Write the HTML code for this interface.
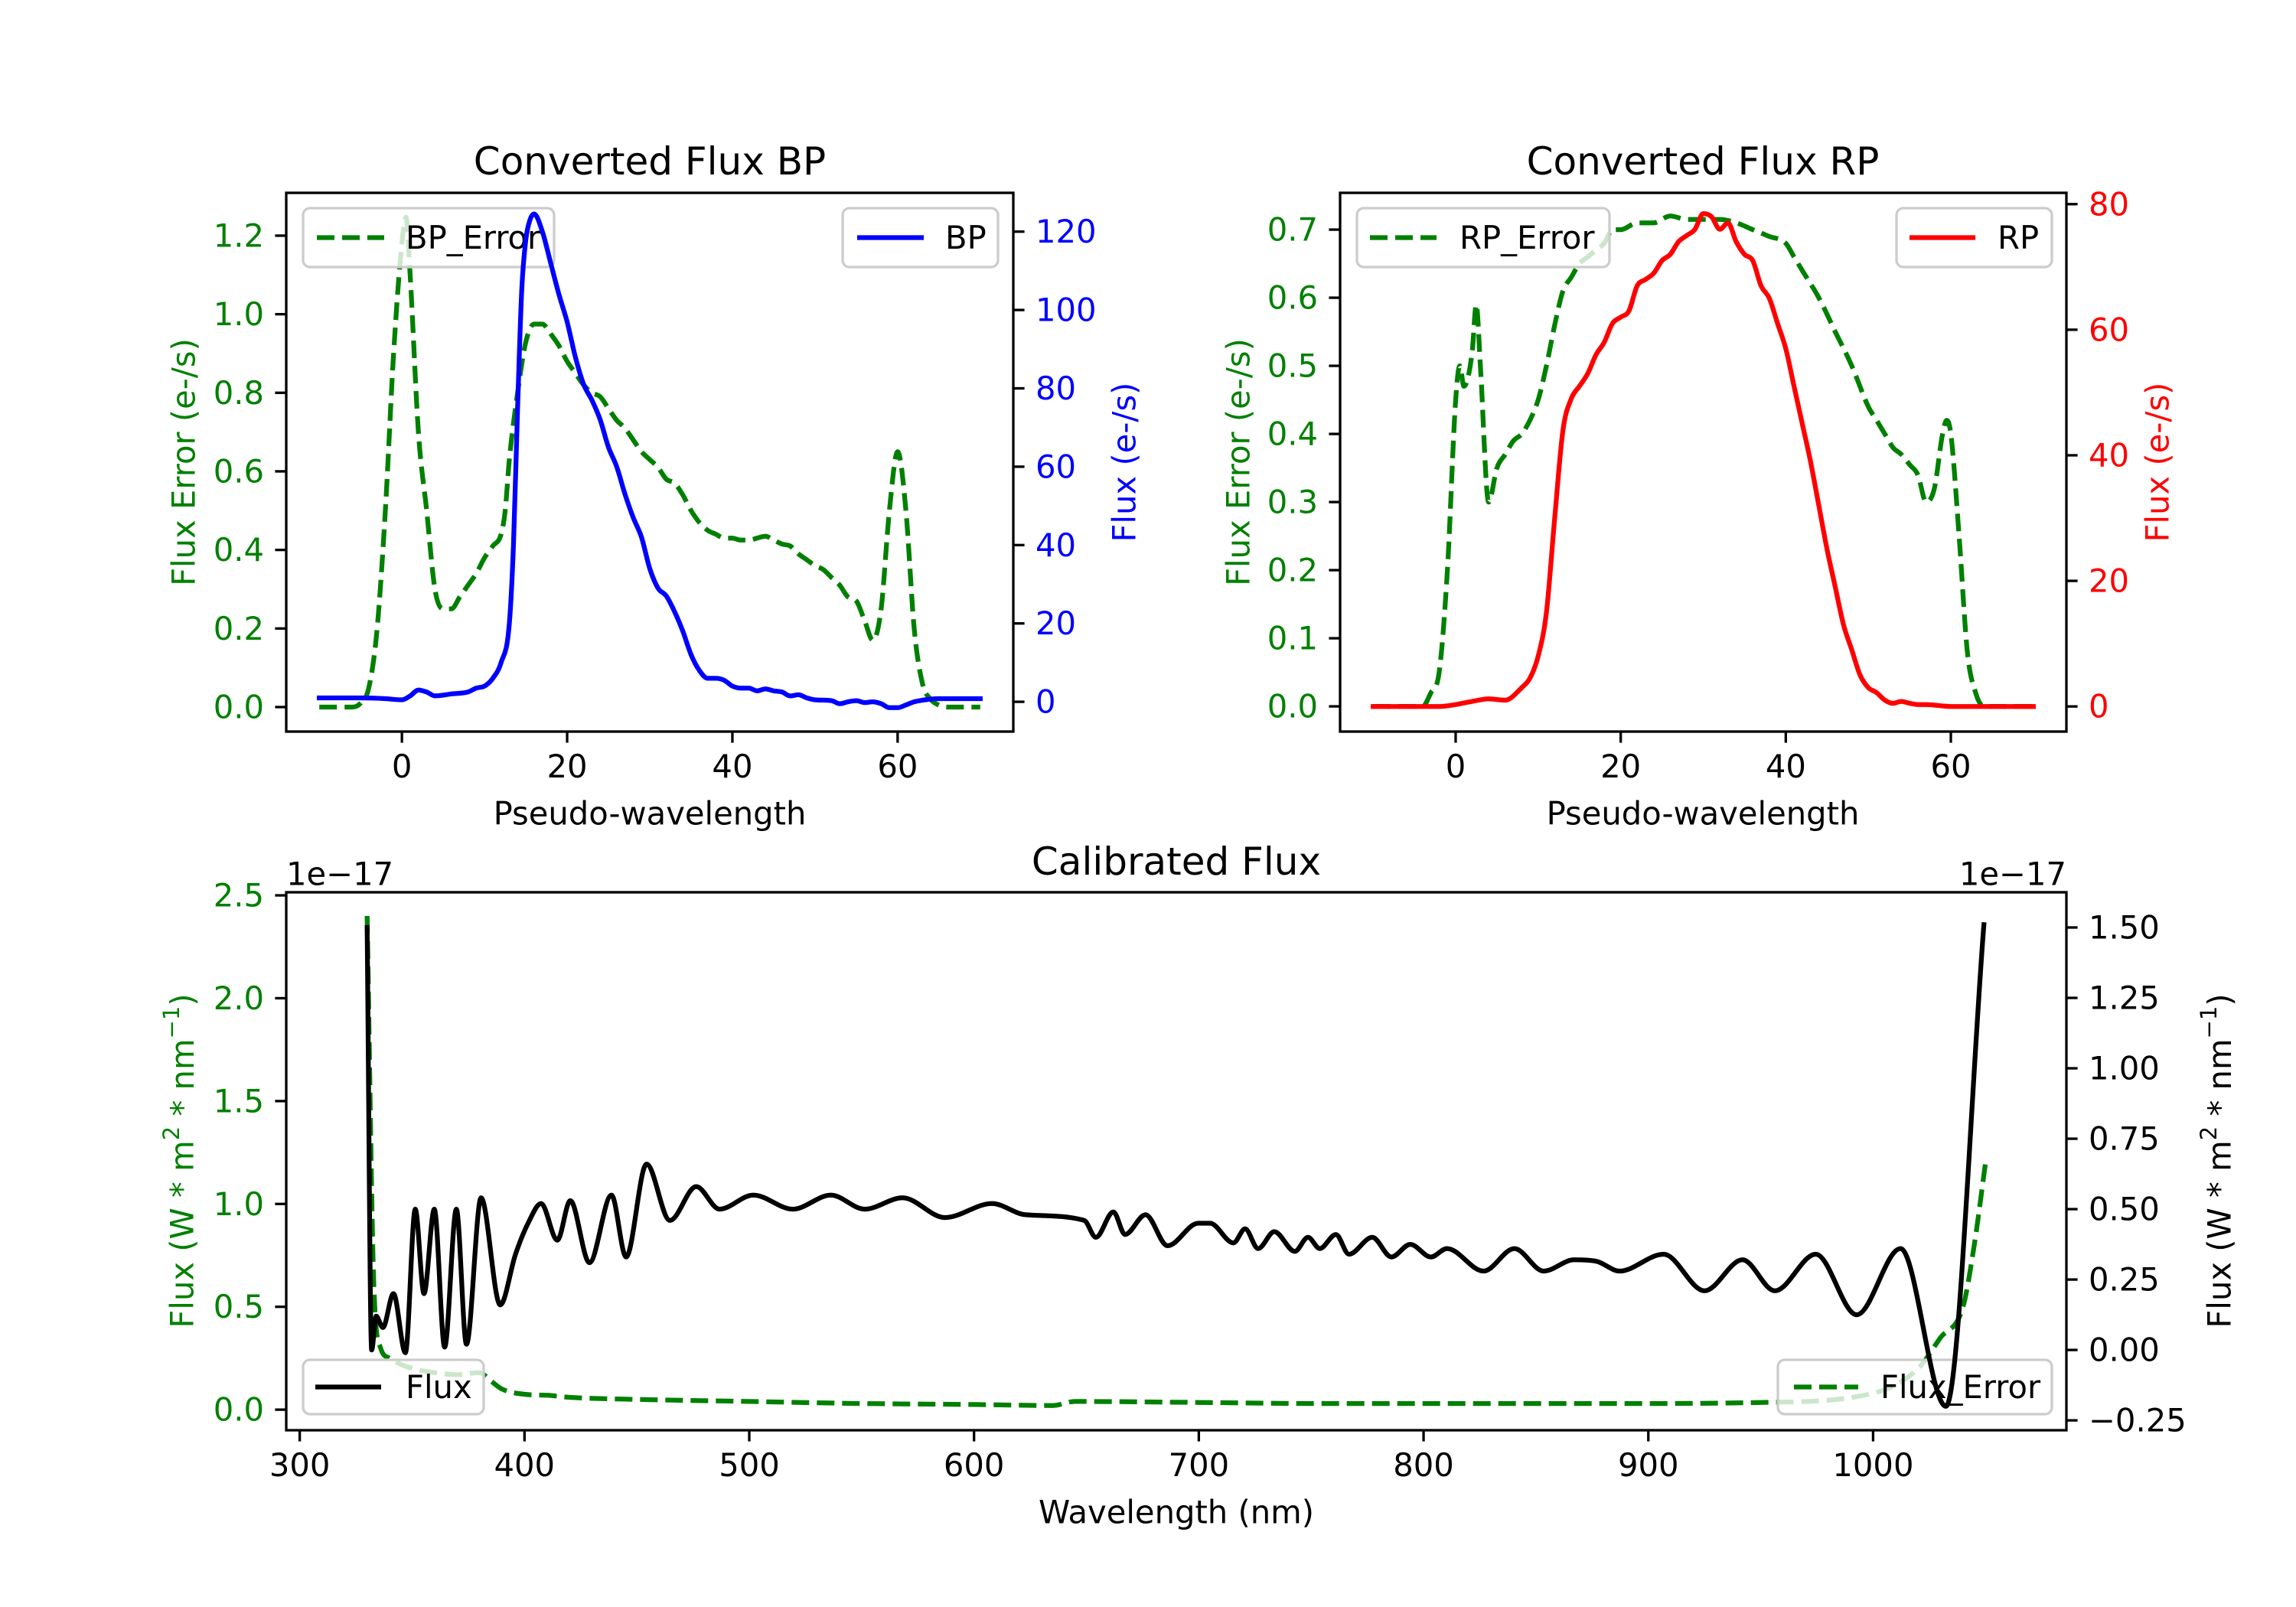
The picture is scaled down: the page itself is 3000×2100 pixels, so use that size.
<!DOCTYPE html>
<html><head><meta charset="utf-8">
<style>
html,body{margin:0;padding:0;background:#fff;}
svg{display:block;font-family:"DejaVu Sans","Liberation Sans",sans-serif;}
</style></head>
<body>
<svg id="fig" width="3000" height="2100" viewBox="0 0 3000 2100" xmlns="http://www.w3.org/2000/svg">
<rect width="3000" height="2100" fill="#fff"/>
<defs>
<clipPath id="cBP"><rect x="374" y="252" width="950" height="704"/></clipPath>
<clipPath id="cRP"><rect x="1751" y="252" width="949" height="704"/></clipPath>
<clipPath id="cCal"><rect x="374" y="1166" width="2326" height="703"/></clipPath>
</defs>
</svg>
<script>
// ---------- data ----------
const bpX   = [-10,-5,-2,0,1,2,3,4,6,8,9,10,11,12,13,13.5,14,14.5,15,15.5,16,17,18,19,20,21,22,23,24,25,26,27,28,29,30,31,32,33,34,35,36,37,38,39,40,41,42,43,44,45,46,47,48,49,50,52,53,54,55,56,57,58,59,60,61,62,63,65,70];
const bpFlux= [1,1,0.8,0.5,1.5,3,2.5,1.5,2,2.5,3.5,4,6,10,20,40,75,105,118,123,124.5,120,112,104,97,88,81,77,72,65,60,53,47,42,34,29,27,23,18,12,8,6,6,5.5,4,3.5,3.5,2.8,3.3,2.8,2.5,1.5,1.8,1,0.5,0.3,-0.5,0,0.3,-0.2,0,-0.5,-1.5,-1.5,-0.8,0,0.4,0.8,0.8];
const bpErrX= [-10,-6,-5,-4,-3,-2,-1,0,0.5,1,2,3,4,5,6,7,8,9,10,11,12,12.5,13,14,15,16,17,18,19,20,21,22,23,24,25,26,27,28,29,30,31,32,33,34,35,36,37,38,39,40,41,42,43,44,45,46,47,48,49,50,51,52,53,54,55,56,57,58,59,60,61,62,63,64,65,66,70];
const bpErr = [0,0,0.01,0.05,0.2,0.5,0.9,1.18,1.247,1.1,0.7,0.5,0.3,0.25,0.25,0.28,0.31,0.34,0.38,0.41,0.44,0.5,0.63,0.8,0.93,0.975,0.975,0.95,0.92,0.88,0.85,0.82,0.8,0.79,0.76,0.73,0.71,0.68,0.65,0.63,0.61,0.58,0.57,0.54,0.5,0.47,0.45,0.44,0.43,0.43,0.425,0.425,0.43,0.435,0.425,0.415,0.41,0.39,0.375,0.36,0.35,0.33,0.31,0.28,0.27,0.22,0.17,0.25,0.5,0.65,0.5,0.2,0.06,0.02,0.005,0,0];
const rpX   = [-10,-2,0,2,4,6,8,9,10,11,12,13,14,15,16,17,18,19,20,21,22,23,24,25,26,27,28,29,30,31,32,33,34,35,36,37,38,39,40,41,42,43,44,45,46,47,48,49,50,51,52,53,54,55,56,57,60,70];
const rpFlux= [0,0,0.3,0.8,1.2,1.0,3,4.5,8,15,30,44,49,51,53,56,58,61,62,63,67,68,69,71,72,74,75,76,78.5,78,76,77,74,72,71,67,65,61,57,51,45,39,32,25,19,13,9,5,3,2.2,1,0.5,0.8,0.5,0.3,0.3,0,0];
const rpErrX= [-10,-4,-3,-2,-1,0,0.5,1,2,2.5,3,4,5,6,7,8,9,10,11,12,13,14,15,16,17,18,19,20,22,24,26,28,30,32,34,36,38,40,41,42,44,46,48,50,51,52,53,54,55,56,57,58,59,59.5,60,61,62,63,64,70];
const rpErr = [0,0,0.02,0.05,0.2,0.45,0.5,0.47,0.52,0.59,0.5,0.3,0.35,0.37,0.39,0.4,0.42,0.45,0.5,0.56,0.61,0.63,0.65,0.66,0.67,0.68,0.7,0.7,0.71,0.71,0.72,0.715,0.715,0.715,0.71,0.7,0.69,0.68,0.66,0.64,0.6,0.55,0.5,0.44,0.42,0.4,0.38,0.37,0.355,0.34,0.3,0.32,0.4,0.42,0.4,0.25,0.08,0.02,0,0];
const calX  = [330,332,334,337,341.7,347,351.4,355.3,359.9,364.5,369.7,374.2,380.7,389.2,396,401.6,407.4,414.6,420.4,428.9,438.7,445.2,454.3,464.7,476.4,486.8,501.8,519.4,536.3,551.3,568.2,587.1,608,622.9,649,654.2,662,667.2,676.3,686.1,699.7,705,715.4,720.6,726.4,733.6,742.7,748.6,753.8,761,766.8,777.2,785.7,794.1,803.3,810.4,826.7,840.4,853.4,867,876.8,887.2,906.8,925,941.9,956.3,974.5,992.7,1012.2,1032.4,1049.3];
const calFlux=[1.5,0.0,0.12,0.08,0.2,-0.01,0.5,0.2,0.5,0.01,0.5,0.02,0.54,0.16,0.34,0.45,0.52,0.39,0.53,0.31,0.55,0.33,0.66,0.46,0.58,0.5,0.55,0.5,0.55,0.5,0.54,0.47,0.52,0.48,0.46,0.4,0.49,0.41,0.48,0.37,0.45,0.45,0.38,0.43,0.36,0.42,0.35,0.4,0.36,0.41,0.34,0.4,0.33,0.375,0.33,0.36,0.28,0.36,0.28,0.32,0.315,0.28,0.34,0.21,0.32,0.21,0.34,0.125,0.36,-0.2,1.51];
const errX  = [330,333,336,340,345,350,360,370,380,385,390,400,410,420,450,500,550,600,635,645,700,750,800,900,950,1000,1020,1030,1040,1045,1050];
const calErr= [2.4,0.6,0.3,0.25,0.22,0.2,0.18,0.17,0.18,0.14,0.1,0.075,0.07,0.06,0.05,0.04,0.03,0.025,0.02,0.04,0.035,0.03,0.03,0.03,0.035,0.08,0.2,0.35,0.5,0.8,1.2];
const bpErrTicks=[0,0.2,0.4,0.6,0.8,1.0,1.2];
const bpFluxTicks=[0,20,40,60,80,100,120];
const rpErrTicks=[0,0.1,0.2,0.3,0.4,0.5,0.6,0.7];
const rpFluxTicks=[0,20,40,60,80];
const pwTicks=[0,20,40,60];
const wlTicks=[300,400,500,600,700,800,900,1000];
const calErrTicks=[0,0.5,1.0,1.5,2.0,2.5];
const calFluxTicks=[-0.25,0,0.25,0.5,0.75,1.0,1.25,1.5];

// ---------- helpers ----------
const NS="http://www.w3.org/2000/svg";
const svg=document.getElementById('fig');
function el(tag,attrs,parent){const e=document.createElementNS(NS,tag);for(const k in attrs)e.setAttribute(k,attrs[k]);(parent||svg).appendChild(e);return e;}
function lin(d0,d1,p0,p1){return v=>p0+(v-d0)/(d1-d0)*(p1-p0);}
function fmt(v,dec){const s=v.toFixed(dec);return s.startsWith('-')?'\u2212'+s.slice(1):s;}

// monotone cubic (Fritsch-Carlson) path through pixel points
function smoothPath(P){
  const n=P.length;
  if(n<3)return 'M'+P.map(p=>p[0].toFixed(1)+','+p[1].toFixed(1)).join('L');
  const d=[],m=[];
  for(let i=0;i<n-1;i++){const dx=P[i+1][0]-P[i][0];d.push(dx===0?0:(P[i+1][1]-P[i][1])/dx);}
  m.push(d[0]);
  for(let i=1;i<n-1;i++){m.push(d[i-1]*d[i]<=0?0:(d[i-1]+d[i])/2);}
  m.push(d[n-2]);
  for(let i=0;i<n-1;i++){
    if(d[i]===0){m[i]=0;m[i+1]=0;continue;}
    const a=m[i]/d[i],b=m[i+1]/d[i],s=a*a+b*b;
    if(s>9){const t=3/Math.sqrt(s);m[i]=t*a*d[i];m[i+1]=t*b*d[i];}
  }
  let str='M'+P[0][0].toFixed(1)+','+P[0][1].toFixed(1);
  for(let i=0;i<n-1;i++){
    const h=(P[i+1][0]-P[i][0])/3;
    str+='C'+(P[i][0]+h).toFixed(1)+','+(P[i][1]+m[i]*h).toFixed(1)+' '+(P[i+1][0]-h).toFixed(1)+','+(P[i+1][1]-m[i+1]*h).toFixed(1)+' '+P[i+1][0].toFixed(1)+','+P[i+1][1].toFixed(1);
  }
  return str;
}

function series(xs,ys,sx,sy,color,dashed,clip,name){
  const P=xs.map((x,i)=>[sx(x),sy(ys[i])]);
  const p=el('path',{d:smoothPath(P),fill:'none',stroke:color,'stroke-width':6.25,'stroke-linejoin':'round','stroke-linecap':dashed?'butt':'square','clip-path':'url(#'+clip+')'});
  if(dashed)p.setAttribute('stroke-dasharray','23,10');
  
  
}
function frame(x0,y0,x1,y1,name){
  const r=el('rect',{x:x0,y:y0,width:x1-x0,height:y1-y0,fill:'none',stroke:'#000','stroke-width':3.3});
  
  
}
function xTicks(ticks,sx,yb,dec,name){
  ticks.forEach(t=>{
    const x=sx(t);
    const l=el('line',{x1:x,x2:x,y1:yb,y2:yb+14.6,stroke:'#000','stroke-width':3.3});
    
    
    const tx=el('text',{x:x,y:yb+29,'font-size':41.7,'text-anchor':'middle','dominant-baseline':'hanging',fill:'#000'});
    tx.textContent=fmt(t,dec);
    
    
  });
}
function yTicks(ticks,sy,xa,side,dec,color,name){
  ticks.forEach(t=>{
    const y=sy(t);
    const dir=side==='left'?-1:1;
    const l=el('line',{x1:xa,x2:xa+dir*14.6,y1:y,y2:y,stroke:'#000','stroke-width':3.3});
    
    
    const tx=el('text',{x:xa+dir*29,y:y,'font-size':41.7,'text-anchor':side==='left'?'end':'start','dominant-baseline':'central',fill:color});
    tx.textContent=fmt(t,dec);
    
    
  });
}
function text(x,y,s,size,color,rot,name,anchor){
  const t=el('text',{x:x,y:y,'font-size':size,'text-anchor':anchor||'middle','dominant-baseline':'central',fill:color});
  if(rot)t.setAttribute('transform','rotate('+rot+' '+x+' '+y+')');
  t.textContent=s;
  
  
  return t;
}
function legend(x0,x1,y0,y1,hx0,hx1,tx,label,color,dashed,name){
  const g=el('g',{});
  
  
  const r=el('rect',{x:x0,y:y0,width:x1-x0,height:y1-y0,rx:9,fill:'#fff','fill-opacity':0.8,stroke:'#cccccc','stroke-width':3.3},g);
  
  
  const yc=(y0+y1)/2;
  const l=el('line',{x1:hx0,x2:hx1,y1:yc,y2:yc,stroke:color,'stroke-width':6.25});
  if(dashed)l.setAttribute('stroke-dasharray','23,10');
  g.appendChild(l);
  
  
  const t=el('text',{x:tx,y:yc,'font-size':41.7,'dominant-baseline':'central',fill:'#000'},g);
  t.textContent=label;
  
  
}

// ---------- BP panel ----------
{
  const sx=lin(-14,74,374,1324), syL=lin(-0.0624,1.309,956,252), syR=lin(-7.6,129.9,956,252);
  series(bpErrX,bpErr,sx,syL,'#008000',true,'cBP','bp-error-line');
  legend(396,724,272,349,414,502,530,'BP_Error','#008000',true,'bp-error-legend');
  series(bpX,bpFlux,sx,syR,'#0000ff',false,'cBP','bp-flux-line');
  legend(1101,1304,272,349,1120,1207,1235,'BP','#0000ff',false,'bp-legend');
  frame(374,252,1324,956,'bp-axes-frame');
  xTicks(pwTicks,sx,956,0,'bp-x');
  yTicks(bpErrTicks,syL,374,'left',1,'#008000','bp-error-y');
  yTicks(bpFluxTicks,syR,1324,'right',0,'#0000ff','bp-flux-y');
  text(849,211,'Converted Flux BP',50,'#000',0,'bp-title');
  text(849,1063,'Pseudo-wavelength',41.7,'#000',0,'bp-x-axis-title');
  text(240,604,'Flux Error (e-/s)',41.7,'#008000',-90,'bp-error-y-axis-title');
  text(1469,604,'Flux (e-/s)',41.7,'#0000ff',-90,'bp-flux-y-axis-title');
}
// ---------- RP panel ----------
{
  const sx=lin(-14,74,1751,2700), syL=lin(-0.037,0.754,956,252), syR=lin(-4,81.8,956,252);
  series(rpErrX,rpErr,sx,syL,'#008000',true,'cRP','rp-error-line');
  legend(1773,2103,272,349,1790,1877,1907,'RP_Error','#008000',true,'rp-error-legend');
  series(rpX,rpFlux,sx,syR,'#ff0000',false,'cRP','rp-flux-line');
  legend(2478,2681,272,349,2495,2581,2610,'RP','#ff0000',false,'rp-legend');
  frame(1751,252,2700,956,'rp-axes-frame');
  xTicks(pwTicks,sx,956,0,'rp-x');
  yTicks(rpErrTicks,syL,1751,'left',1,'#008000','rp-error-y');
  yTicks(rpFluxTicks,syR,2700,'right',0,'#ff0000','rp-flux-y');
  text(2225,211,'Converted Flux RP',50,'#000',0,'rp-title');
  text(2225,1063,'Pseudo-wavelength',41.7,'#000',0,'rp-x-axis-title');
  text(1618,604,'Flux Error (e-/s)',41.7,'#008000',-90,'rp-error-y-axis-title');
  text(2819,604,'Flux (e-/s)',41.7,'#ff0000',-90,'rp-flux-y-axis-title');
}
// ---------- Calibrated panel ----------
{
  const sx=lin(294,1086,374,2700), syL=lin(-0.1,2.515,1869,1166), syR=lin(-0.285,1.625,1869,1166);
  series(errX,calErr,sx,syL,'#008000',true,'cCal','calibrated-error-line');
  legend(2323,2681,1777,1848,2344,2428,2457,'Flux_Error','#008000',true,'flux-error-legend');
  series(calX,calFlux,sx,syR,'#000000',false,'cCal','calibrated-flux-line');
  legend(396,632,1777,1848,412,498,530,'Flux','#000000',false,'flux-legend');
  frame(374,1166,2700,1869,'calibrated-axes-frame');
  xTicks(wlTicks,sx,1869,0,'wavelength-x');
  yTicks(calErrTicks,syL,374,'left',1,'#008000','calibrated-error-y');
  yTicks(calFluxTicks,syR,2700,'right',2,'#000','calibrated-flux-y');
  text(1537,1126,'Calibrated Flux',50,'#000',0,'calibrated-title');
  text(1537,1976,'Wavelength (nm)',41.7,'#000',0,'wavelength-x-axis-title');
  text(374,1142,'1e\u221217',41.7,'#000',0,'left-offset-text','start');
  text(2700,1142,'1e\u221217',41.7,'#000',0,'right-offset-text','end');
  const t1=text(238,1517,'',41.7,'#008000',-90,'calibrated-error-y-axis-title');
  t1.innerHTML='Flux (W * m<tspan dy="-14" font-size="29">2</tspan><tspan dy="14"> * nm</tspan><tspan dy="-14" font-size="29">\u22121</tspan><tspan dy="14">)</tspan>';
  const t2=text(2900,1517,'',41.7,'#000',-90,'calibrated-flux-y-axis-title');
  t2.innerHTML='Flux (W * m<tspan dy="-14" font-size="29">2</tspan><tspan dy="14"> * nm</tspan><tspan dy="-14" font-size="29">\u22121</tspan><tspan dy="14">)</tspan>';
}
</script>
</body></html>
